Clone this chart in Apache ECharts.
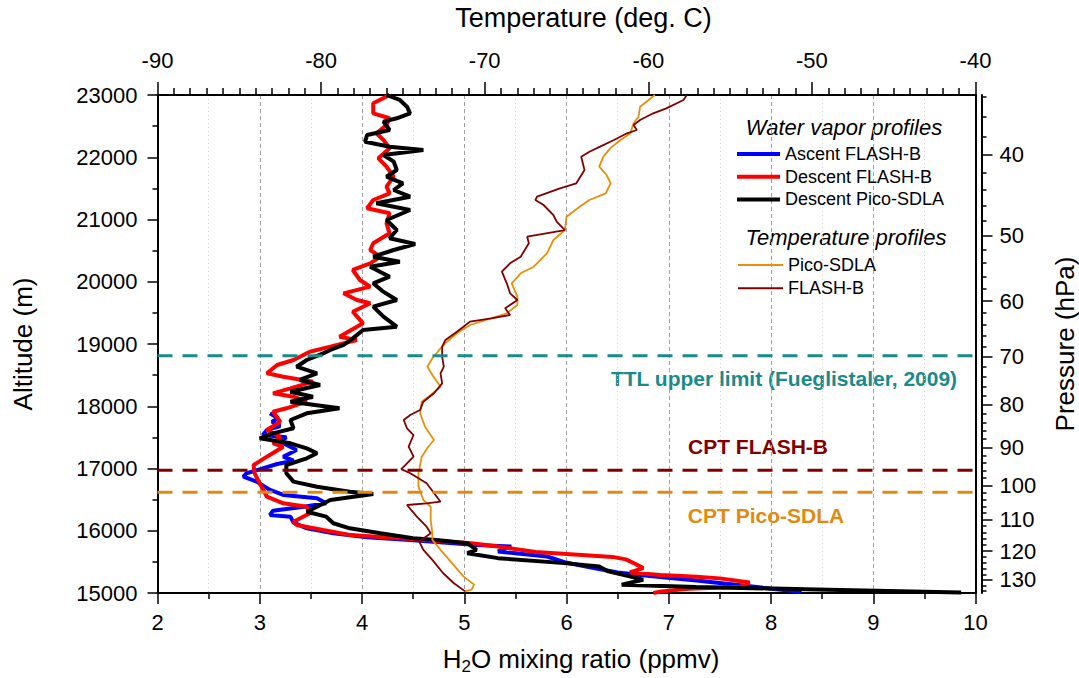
<!DOCTYPE html>
<html><head><meta charset="utf-8">
<script src="https://cdn.jsdelivr.net/npm/echarts@6/dist/echarts.min.js"></script>
<style>html,body{margin:0;padding:0;background:#fff}#c{width:1079px;height:678px}</style>
</head><body><div id="c"></div>
<script>
// ---------- data ----------
const FONT = '"Liberation Sans", Arial, sans-serif';
const altRange = [15000, 23000];
const h2oRange = [2, 10];
const tempRange = [-90, -40];
// pressure axis (log-pressure scale, hPa at top and bottom of plot)
const pressureTop = 33.87;
const pressureBottom = 134.8;
const pressureMajor = [40, 50, 60, 70, 80, 90, 100, 110, 120, 130];
const pressureMinor = [34, 36, 38, 42, 44, 46, 48, 52, 54, 56, 58, 62, 64, 66, 68, 72, 74, 76, 78,
  82, 84, 86, 88, 92, 94, 96, 98, 102, 104, 106, 108, 112, 114, 116, 118, 122, 124, 126, 128, 132, 134];

// reference levels (altitude, m)
const ttlLevel = 18810;
const cptFlashB = 16970;
const cptPico = 16620;

// water vapour profiles [ppmv, altitude m]
const ascentFlashB = [
  [3.10,17887],[3.18,17806],[3.12,17752],[3.20,17683],[3.07,17619],[3.03,17538],[3.26,17501],[3.20,17431],
  [3.36,17297],[3.23,17190],[3.33,17125],[3.17,17072],[3.03,17003],[2.87,16923],[2.84,16869],[2.97,16789],
  [3.10,16655],[3.23,16575],[3.56,16521],[3.65,16441],[3.43,16386],[3.13,16322],[3.10,16253],[3.30,16226],
  [3.33,16130],[3.46,16039],[3.72,15959],[4.05,15895],[4.47,15853],[5.12,15773],[5.46,15747],[5.33,15667],
  [5.81,15586],[5.98,15495],[6.19,15427],[6.50,15330],[6.84,15270],[7.27,15200],[7.70,15125],[8.00,15070],[8.30,15020]
];
const descentFlashB = [
  [4.27,23000],[4.11,22866],[4.11,22706],[4.27,22626],[4.24,22518],[4.14,22385],[4.21,22277],[4.27,22144],
  [4.16,21983],[4.24,21848],[4.31,21688],[4.24,21527],[4.27,21421],[4.11,21313],[4.05,21180],[4.27,21100],
  [4.24,20939],[4.27,20778],[4.11,20618],[4.08,20510],[4.18,20403],[4.08,20296],[3.91,20189],[3.98,20028],
  [4.08,19921],[3.82,19814],[3.95,19707],[4.08,19654],[3.91,19519],[4.01,19332],[3.78,19117],[3.95,19064],
  [3.69,18957],[3.49,18876],[3.33,18743],[3.17,18663],[3.07,18529],[3.23,18475],[3.52,18395],[3.30,18288],
  [3.13,18208],[3.33,18153],[3.46,18073],[3.26,17967],[3.13,17912],[3.20,17752],[3.07,17619],[3.20,17511],
  [3.13,17405],[3.23,17350],[3.07,17190],[2.94,17056],[2.95,16923],[3.00,16762],[3.07,16547],[3.23,16441],
  [3.46,16386],[3.49,16280],[3.33,16146],[3.36,16093],[3.62,16012],[3.88,15932],[4.45,15870],[5.07,15800],
  [5.33,15747],[5.70,15660],[6.45,15580],[6.58,15540],[6.67,15470],[6.75,15400],[6.62,15330],[6.92,15290],
  [7.27,15262],[7.50,15235],[7.79,15170],[7.70,15100],[7.20,15070],[6.93,15026],[6.85,15000]
];
const descentPico = [
  [4.24,23000],[4.37,22920],[4.44,22812],[4.47,22706],[4.34,22626],[4.21,22572],[4.27,22438],[4.05,22357],
  [4.03,22250],[4.27,22170],[4.60,22116],[4.21,22036],[4.31,21929],[4.34,21795],[4.24,21688],[4.40,21582],
  [4.31,21474],[4.47,21366],[4.14,21260],[4.47,21153],[4.24,20992],[4.34,20831],[4.27,20698],[4.52,20606],
  [4.31,20510],[4.11,20403],[4.37,20322],[4.08,20242],[4.27,20081],[4.11,19975],[4.20,19850],[4.34,19707],
  [4.11,19600],[4.21,19439],[4.34,19278],[4.01,19225],[3.91,19091],[3.82,18984],[3.69,18904],[3.62,18850],
  [3.46,18743],[3.36,18635],[3.56,18529],[3.39,18422],[3.59,18341],[3.30,18234],[3.52,18153],[3.30,18073],
  [3.78,17967],[3.46,17887],[3.30,17779],[3.33,17646],[3.13,17565],[3.00,17485],[3.30,17405],[3.46,17324],
  [3.56,17244],[3.46,17164],[3.26,17056],[3.26,16923],[3.33,16789],[3.56,16708],[3.88,16628],[4.11,16591],
  [3.69,16494],[3.56,16386],[3.46,16306],[3.65,16226],[3.72,16120],[3.88,16039],[4.18,15959],[4.50,15879],
  [4.73,15853],[5.03,15800],[5.12,15694],[5.03,15640],[5.33,15560],[5.98,15480],[6.32,15427],[6.41,15347],
  [6.75,15214],[6.54,15134],[7.27,15096],[8.56,15053],[9.86,15010]
];
// temperature profiles [deg C, altitude m]
const tempPico = [
  [-59.6,23000],[-60.5,22812],[-60.6,22652],[-60.9,22545],[-61.1,22385],[-61.7,22277],[-62.3,22150],[-62.75,22009],
  [-63.0,21848],[-62.55,21715],[-62.3,21582],[-62.6,21421],[-63.6,21313],[-64.2,21206],[-65.0,21045],[-65.1,20831],
  [-65.8,20671],[-66.2,20457],[-67.0,20242],[-67.8,20136],[-68.35,19975],[-68.0,19760],[-68.0,19627],[-68.65,19493],
  [-69.9,19386],[-70.9,19305],[-71.7,19172],[-72.3,19037],[-72.7,18930],[-73.2,18770],[-73.5,18635],[-73.2,18502],
  [-72.7,18314],[-73.3,18180],[-73.85,18073],[-73.95,17887],[-73.65,17672],[-73.1,17458],[-73.45,17350],[-73.85,17190],
  [-74.05,16923],[-74.05,16708],[-73.75,16494],[-73.3,16386],[-73.3,16173],[-73.2,15961],[-73.2,15853],[-72.7,15694],
  [-72.0,15480],[-71.3,15267],[-70.65,15134],[-70.8,15053],[-71.2,15026]
];
const tempFlashB = [
  [-57.65,23000],[-57.85,22920],[-58.9,22786],[-59.7,22706],[-60.5,22598],[-60.9,22518],[-60.7,22438],[-61.3,22385],
  [-62.1,22277],[-62.95,22170],[-63.6,22089],[-64.1,22009],[-63.9,21795],[-64.4,21582],[-65.4,21501],[-66.8,21366],
  [-66.9,21313],[-66.4,21233],[-65.8,21072],[-65.6,20965],[-65.1,20831],[-67.4,20724],[-67.3,20618],[-67.8,20403],
  [-68.45,20296],[-68.95,20162],[-68.65,19975],[-68.45,19814],[-68.0,19707],[-68.75,19573],[-68.45,19466],[-69.6,19413],
  [-70.9,19359],[-71.3,19278],[-71.7,19198],[-72.4,19064],[-72.6,18957],[-72.6,18796],[-72.5,18635],[-72.7,18529],
  [-72.6,18368],[-73.1,18208],[-73.75,18073],[-73.95,17940],[-74.55,17859],[-74.95,17779],[-74.75,17646],[-74.35,17538],
  [-74.65,17350],[-74.35,17190],[-74.75,17083],[-75.1,16990],[-74.55,16923],[-73.55,16762],[-72.7,16467],[-73.55,16441],
  [-74.75,16414],[-74.15,16226],[-73.55,16065],[-73.3,15961],[-74.0,15827],[-73.75,15694],[-73.2,15533],[-72.55,15321],
  [-71.9,15161],[-71.2,15026]
];

// ---------- chart ----------
const chart = echarts.init(document.getElementById('c'), null, {renderer: 'svg'});
const black = '#000';
const lineAxis = {show: true, onZero: false, lineStyle: {color: black, width: 2}};
const tickStyle = {color: black, width: 1.5};

function wv(name, data, color) {
  return {type: 'line', name, data, xAxisIndex: 0, yAxisIndex: 0, color, symbol: 'none', showSymbol: false,
    lineStyle: {color, width: 4}, animation: false, z: 3};
}
function tp(name, data, color) {
  return {type: 'line', name, data, xAxisIndex: 1, yAxisIndex: 0, color, symbol: 'none', showSymbol: false,
    lineStyle: {color, width: 1.8}, animation: false, z: 4};
}
function level(y, color) {
  return {type: 'line', data: [[h2oRange[0], y], [h2oRange[1], y]], xAxisIndex: 0, yAxisIndex: 0, symbol: 'none',
    lineStyle: {color, width: 3, type: [15, 10]}, silent: true, animation: false, z: 5};
}

const option = {
  animation: false,
  textStyle: {fontFamily: FONT},
  grid: {left: 157.5, right: 103.5, top: 95, bottom: 85, containLabel: false, outerBoundsMode: 'none'},
  xAxis: [
    {type: 'value', position: 'bottom', min: h2oRange[0], max: h2oRange[1], interval: 1,
     axisLine: lineAxis,
     axisTick: {show: true, length: 11, lineStyle: tickStyle},
     minorTick: {show: true, splitNumber: 2, length: 6, lineStyle: tickStyle},
     axisLabel: {fontSize: 22, color: black, margin: 18, fontFamily: FONT},
     splitLine: {show: true, lineStyle: {color: '#a0a0a0', width: 1, type: [4, 3]}},
     minorSplitLine: {show: true, lineStyle: {color: '#d4d4d4', width: 1, type: [1, 3]}},
     name: '{m|H}{s|2}{m|O mixing ratio (ppmv)}', nameLocation: 'middle', nameGap: 50, nameMoveOverlap: false,
     nameTextStyle: {padding: [0, 0, 0, 29], rich: {
       m: {fontSize: 26, fontFamily: FONT, color: black, lineHeight: 32, verticalAlign: 'middle'},
       s: {fontSize: 17, fontFamily: FONT, color: black, lineHeight: 14, verticalAlign: 'bottom'}}}
    },
    {type: 'value', position: 'top', min: tempRange[0], max: tempRange[1], interval: 10,
     axisLine: lineAxis,
     axisTick: {show: true, length: 13, lineStyle: tickStyle},
     minorTick: {show: true, splitNumber: 10, length: 7, lineStyle: tickStyle},
     axisLabel: {fontSize: 22, color: black, margin: 24, fontFamily: FONT},
     splitLine: {show: false},
     name: 'Temperature (deg. C)', nameLocation: 'middle', nameGap: 64, nameMoveOverlap: false,
     nameTextStyle: {fontSize: 27, color: black, fontFamily: FONT, padding: [0, 0, 0, 34]}
    }
  ],
  yAxis: [
    {type: 'value', position: 'left', min: altRange[0], max: altRange[1], interval: 1000,
     axisLine: lineAxis,
     axisTick: {show: true, length: 10, lineStyle: tickStyle},
     minorTick: {show: true, splitNumber: 2, length: 5, lineStyle: tickStyle},
     axisLabel: {fontSize: 22, color: black, margin: 20, fontFamily: FONT, formatter: v => String(v)},
     splitLine: {show: false},
     name: 'Altitude (m)', nameLocation: 'middle', nameGap: 122, nameRotate: 90, nameMoveOverlap: false,
     nameTextStyle: {fontSize: 26, color: black, fontFamily: FONT}
    },
    {type: 'value', position: 'right', min: altRange[0], max: altRange[1], interval: 1000,
     axisLine: lineAxis, axisTick: {show: false}, axisLabel: {show: false}, splitLine: {show: false}
    },
    {type: 'value', position: 'right', offset: 6, inverse: true,
     min: Math.log(pressureTop), max: Math.log(pressureBottom),
     axisLine: lineAxis,
     axisTick: {show: true, length: 11, lineStyle: tickStyle, customValues: pressureMajor.map(Math.log)},
     axisLabel: {fontSize: 22, color: black, margin: 18, fontFamily: FONT,
       customValues: pressureMajor.map(Math.log), formatter: v => String(Math.round(Math.exp(v)))},
     splitLine: {show: false},
     name: 'Pressure (hPa)', nameLocation: 'middle', nameGap: 70, nameRotate: 90, nameMoveOverlap: false,
     nameTextStyle: {fontSize: 26, color: black, fontFamily: FONT}
    },
    {type: 'value', position: 'right', offset: 6, inverse: true,
     min: Math.log(pressureTop), max: Math.log(pressureBottom),
     axisLine: {show: false},
     axisTick: {show: true, length: 5, lineStyle: tickStyle, customValues: pressureMinor.map(Math.log)},
     axisLabel: {show: false, customValues: pressureMinor.map(Math.log)},
     splitLine: {show: false}
    }
  ],
  legend: [
    {data: ['Ascent FLASH-B', 'Descent FLASH-B', 'Descent Pico-SDLA'], orient: 'vertical',
     left: 737, top: 145, padding: 0, itemGap: 4.7, itemWidth: 43, itemHeight: 4, icon: 'rect',
     selectedMode: false, textStyle: {fontSize: 18, lineHeight: 18, color: black, fontFamily: FONT}},
    {data: ['Pico-SDLA', 'FLASH-B'], orient: 'vertical',
     left: 738, top: 256, padding: 0, itemGap: 5.3, itemWidth: 45, itemHeight: 2, icon: 'rect',
     selectedMode: false, textStyle: {fontSize: 18, lineHeight: 18, color: black, fontFamily: FONT}}
  ],
  graphic: [
    {type: 'text', x: 844, y: 127, silent: true, style: {text: 'Water vapor profiles', align: 'center', verticalAlign: 'middle',
      font: 'italic 22px ' + FONT, fill: black}},
    {type: 'text', x: 846, y: 237, silent: true, style: {text: 'Temperature profiles', align: 'center', verticalAlign: 'middle',
      font: 'italic 22px ' + FONT, fill: black}},
    {type: 'text', x: 784, y: 378, silent: true, style: {text: 'TTL upper limit (Fueglistaler, 2009)', align: 'center', verticalAlign: 'middle',
      font: 'bold 21px ' + FONT, fill: '#1a8a8a'}},
    {type: 'text', x: 758, y: 446, silent: true, style: {text: 'CPT FLASH-B', align: 'center', verticalAlign: 'middle',
      font: 'bold 21px ' + FONT, fill: '#800000'}},
    {type: 'text', x: 766, y: 515, silent: true, style: {text: 'CPT Pico-SDLA', align: 'center', verticalAlign: 'middle',
      font: 'bold 21px ' + FONT, fill: '#e08a10'}}
  ],
  series: [
    wv('Ascent FLASH-B', ascentFlashB, '#0000ff'),
    wv('Descent FLASH-B', descentFlashB, '#ff0000'),
    wv('Descent Pico-SDLA', descentPico, '#000000'),
    tp('Pico-SDLA', tempPico, '#e8900c'),
    tp('FLASH-B', tempFlashB, '#800000'),
    level(ttlLevel, '#1a8a8a'),
    level(cptFlashB, '#800000'),
    level(cptPico, '#e08a10')
  ]
};
chart.setOption(option);
</script>
</body></html>
